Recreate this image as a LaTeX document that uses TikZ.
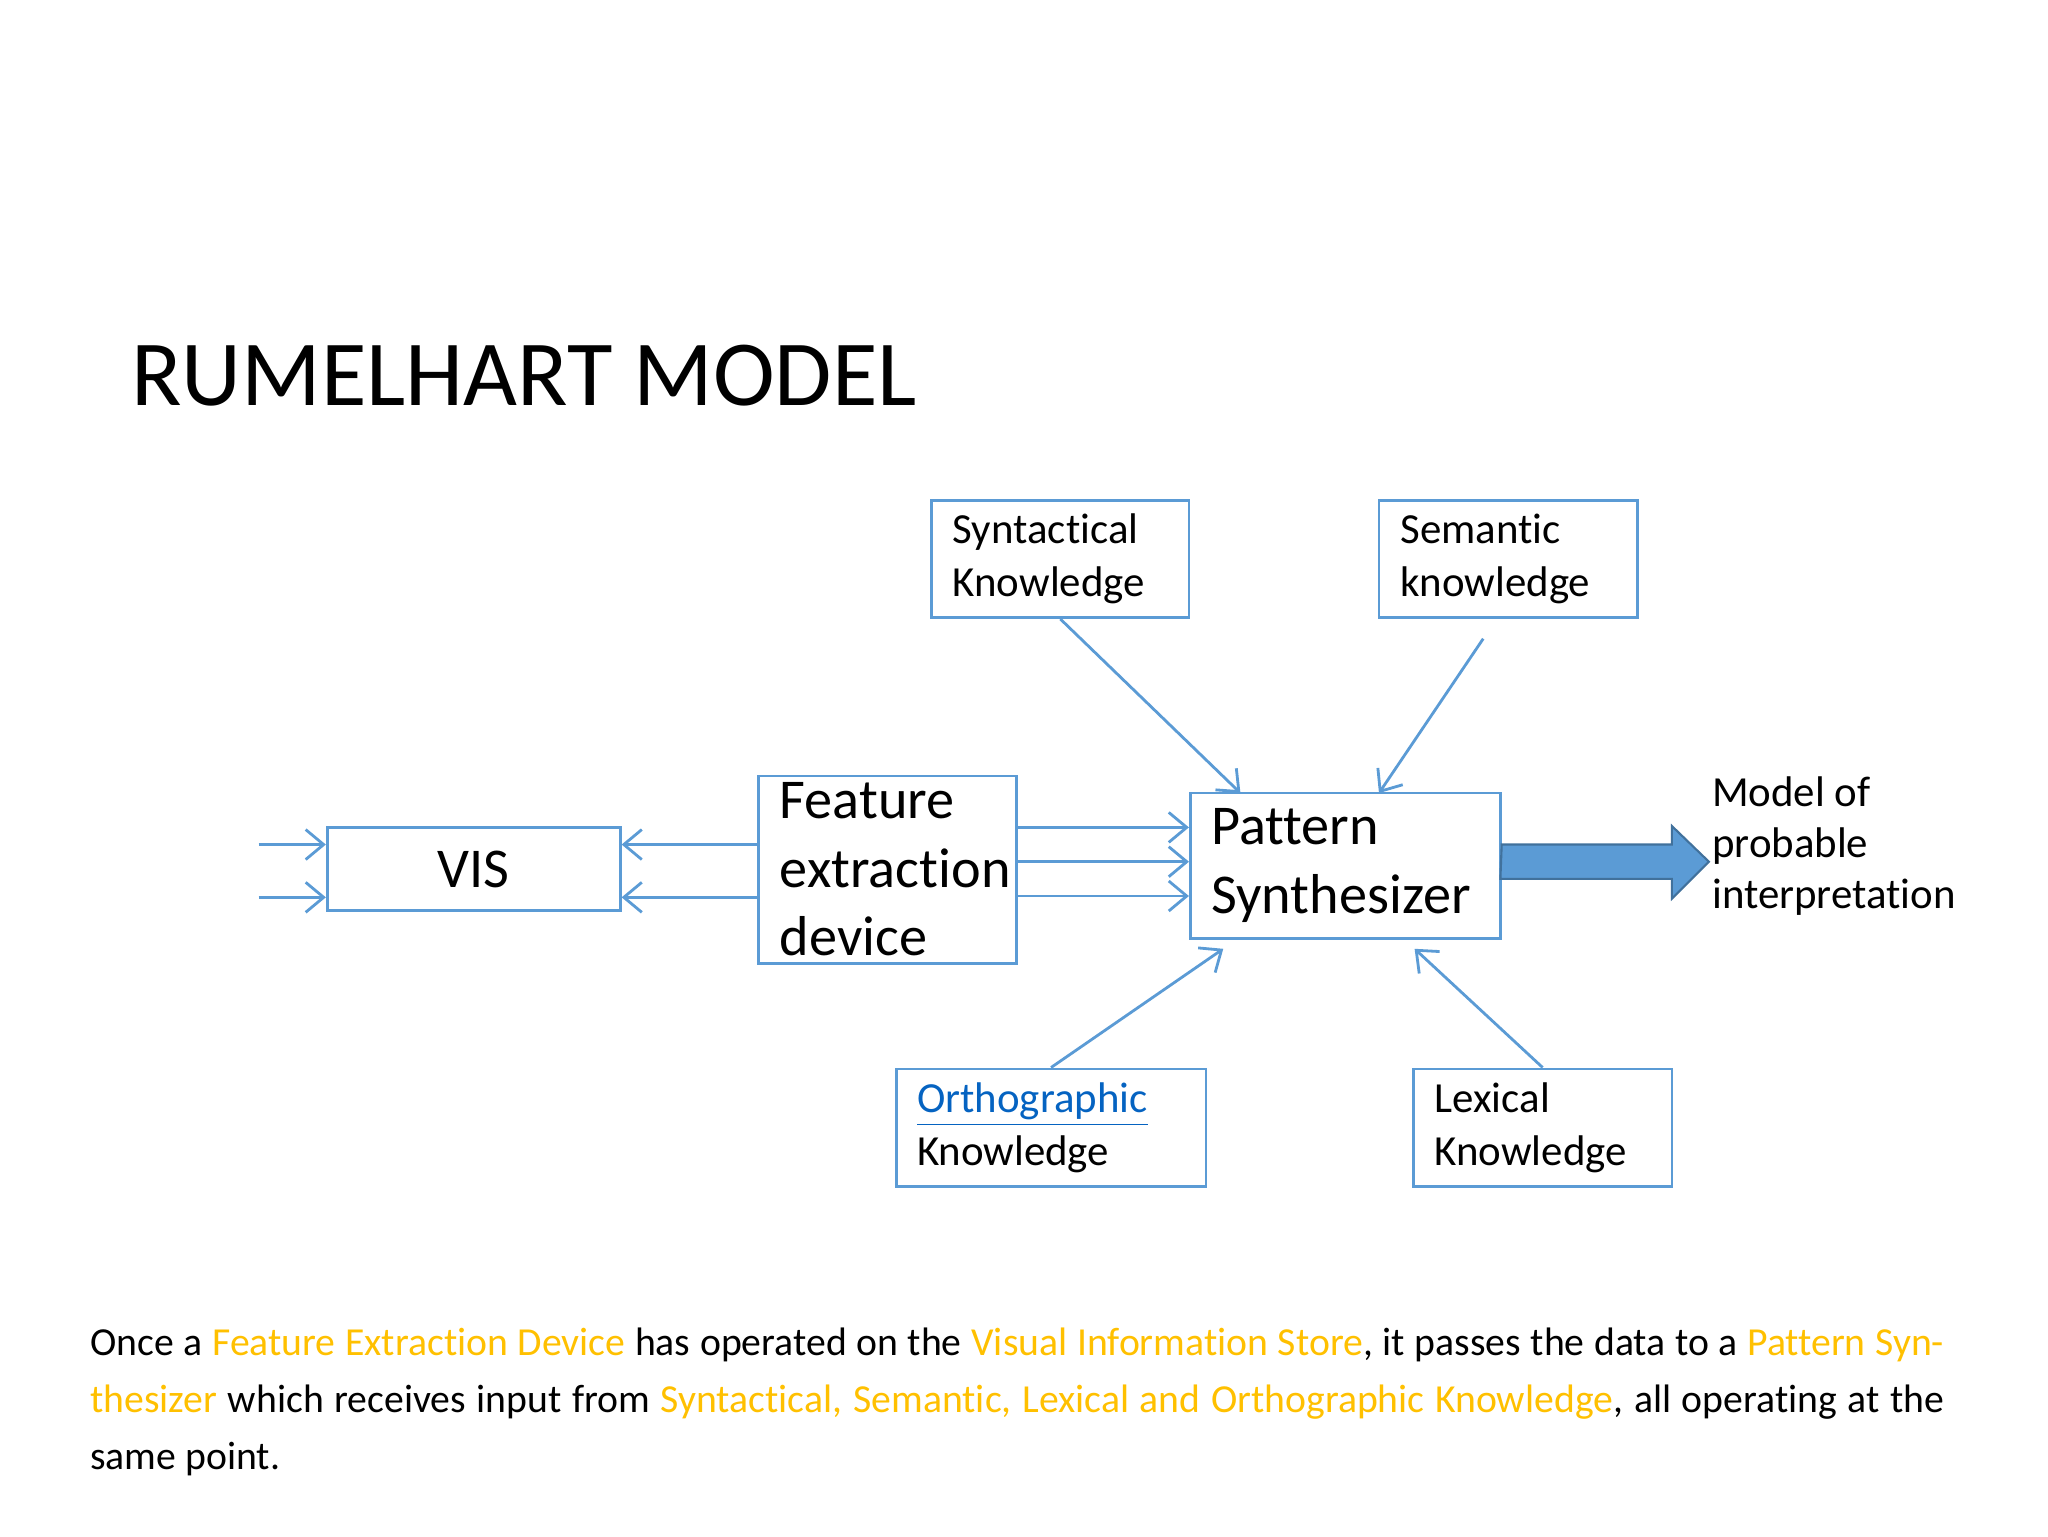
\documentclass[tikz,border=0pt]{standalone}
\usepackage{fontspec}
\setmainfont{Carlito}[Ligatures={NoCommon}]
\usetikzlibrary{arrows.meta}
\definecolor{bl}{HTML}{5B9BD5}
\definecolor{bld}{HTML}{41719C}
\definecolor{org}{HTML}{FFC000}
\definecolor{lnk}{HTML}{0563C1}
\begin{document}
\begin{tikzpicture}[x=0.013196cm,y=-0.013196cm,
  box/.style={draw=bl,line width=0.8pt,rectangle,inner xsep=0.21cm,inner ysep=0pt,align=left},
  sm/.style={box,font=\fontsize{12.2}{15}\selectfont},
  lg/.style={box,font=\fontsize{16}{19.5}\selectfont},
  ar/.style={draw=bl,line width=0.8pt,-{Straight Barb[length=1.8mm,width=3mm]}}]
\useasboundingbox (0,0) rectangle (1552,1164);
\node[anchor=west,font=\fontsize{26.5}{30}\selectfont] at (90,285) {RUMELHART MODEL};
\node[sm,minimum width=2.574cm,minimum height=1.174cm,text width=2.15cm] (syn) at (803.5,423.5) {Syntactical\\Knowledge};
\node[sm,minimum width=2.587cm,minimum height=1.174cm,text width=2.16cm] (sem) at (1143,423.5) {Semantic\\knowledge};
\node[lg,minimum width=2.93cm,minimum height=0.83cm,align=center] (vis) at (359,658.5) {VIS};
\node[lg,minimum width=2.574cm,minimum height=1.874cm,text width=2.15cm] (fea) at (672.5,659) {Feature\\extraction\\device};
\node[lg,minimum width=3.10cm,minimum height=1.452cm,text width=2.68cm] (pat) at (1019.5,656) {Pattern\\Synthesizer};
\node[sm,minimum width=3.10cm,minimum height=1.174cm,text width=2.68cm] (ort) at (796.5,854.5) {\textcolor{lnk}{\underline{Orthographic}}\\Knowledge};
\node[sm,minimum width=2.587cm,minimum height=1.174cm,text width=2.16cm] (lex) at (1169,854.5) {Lexical\\Knowledge};
\node[anchor=north west,align=left,inner sep=0pt,font=\fontsize{12.2}{14.5}\selectfont] (mod) at (1297,588) {Model of\\probable\\interpretation};
\coordinate (i1) at (196,640); \coordinate (i2) at (196,680);
\draw[ar] (i1) -- (vis.west|-i1);
\draw[ar] (i2) -- (vis.west|-i2);
\draw[ar] (fea.west|-i1) -- (vis.east|-i1);
\draw[ar] (fea.west|-i2) -- (vis.east|-i2);
\foreach \y in {627,653,679}{\coordinate (f\y) at (0,\y); \draw[ar] (fea.east|-f\y) -- (pat.west|-f\y);}
\coordinate (p1) at (940,601); \coordinate (p2) at (1045,601);
\coordinate (p3) at (927,719); \coordinate (p4) at (1072,719);
\draw[ar] (syn.south) -- (p1);
\coordinate (s0) at (1124,484);
\draw[ar] (s0) -- (p2);
\draw[ar] (ort.north) -- (p3);
\draw[ar] (lex.north) -- (p4);
\draw[fill=bl,draw=bld,line width=0.6pt] (pat.east|-f653) ++(0,-13) -- (1267,640) -- (1267,626) -- (1295,653) -- (1267,681) -- (1267,666) -- (1137,666) -- cycle;
\node[anchor=north west,inner sep=0pt,text width=18.54cm,align=justify,font=\fontsize{11.3}{16.2}\selectfont] (txt) at (68,1006) {Once a \textcolor{org}{Feature Extraction Device} has operated on the \textcolor{org}{Visual Information Store}, it passes the data to a \textcolor{org}{Pattern Synthesizer} which receives input from \textcolor{org}{Syntactical, Semantic, Lexical and Orthographic Knowledge}, all operating at the same point.};
\end{tikzpicture}
\end{document}
